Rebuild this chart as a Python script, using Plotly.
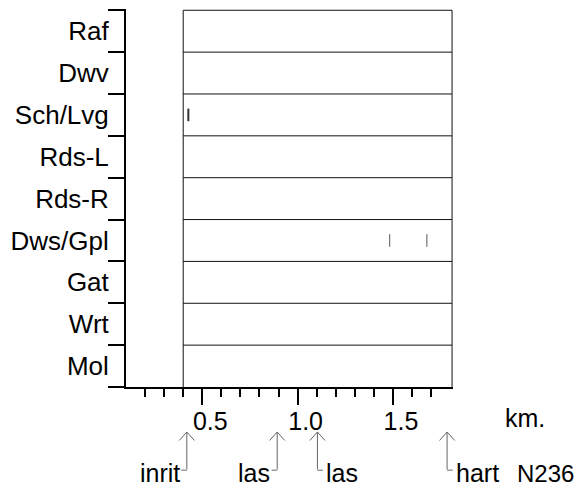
import plotly.graph_objects as go

# rows of the strip chart, top to bottom
rows = ["Raf", "Dwv", "Sch/Lvg", "Rds-L", "Rds-R", "Dws/Gpl", "Gat", "Wrt", "Mol"]

# small tick marks seen in the chart (row, km)
mark_rows = ["Sch/Lvg", "Dws/Gpl", "Dws/Gpl"]
mark_km = [0.427, 1.483, 1.678]
mark_color = ["#333333", "#555555", "#555555"]
mark_width = [2, 1, 1]

# x axis ticks
major_ticks = [0.5, 1.0, 1.5]
major_labels = ["0.5", "1.0", "1.5"]
minor_ticks = [0.2, 0.3, 0.4, 0.6, 0.7, 0.8, 0.9, 1.1, 1.2, 1.3, 1.4, 1.6, 1.7]

# grid box extent and axis range (km)
box_start = 0.4
box_end = 1.81
x_range = [0.1, 1.815]

# location markers under the axis
arrow_km = [0.419, 0.893, 1.104, 1.784]
arrow_text = ["inrit", "las", "las", "hart"]
arrow_side = ["left", "left", "right", "right"]

FONT = "Liberation Sans, Arial, sans-serif"
GREY = "#666666"

n = len(rows)
row_y = {r: n - i - 0.5 for i, r in enumerate(rows)}


def add_bent_arrow(fig, km, label, side):
    """Up arrow below the axis, bending sideways into its label."""
    tip_y = -0.119
    bend_y = -0.220
    common = dict(x=km, xref="x", yref="paper", text="", showarrow=True,
                  arrowhead=0, arrowwidth=1, arrowcolor=GREY, standoff=0,
                  axref="pixel", ayref="pixel", font=dict(size=1), borderpad=0)
    # head arms
    fig.add_annotation(y=tip_y, ax=-8, ay=9, **common)
    fig.add_annotation(y=tip_y, ax=8, ay=9, **common)
    # shaft
    fig.add_annotation(y=tip_y, ax=0, ay=38, **common)
    # sideways stub
    stub = -6 if side == "left" else 6
    fig.add_annotation(y=bend_y, ax=stub, ay=0, **common)
    # label
    fig.add_annotation(x=km, xref="x", y=bend_y, yref="paper", text=label,
                       showarrow=False, xanchor="right" if side == "left" else "left",
                       yanchor="middle", xshift=-5 if side == "left" else 7, yshift=-3,
                       font=dict(size=25, color="black", family=FONT))


fig = go.Figure()

fig.add_trace(go.Scatter(
    x=mark_km, y=[row_y[r] for r in mark_rows], mode="markers",
    marker=dict(symbol="line-ns", size=9,
                line=dict(width=mark_width, color=mark_color)),
    showlegend=False, hoverinfo="skip"))

# the box and its row lines
line_style = dict(color="#111111", width=1)
fig.add_shape(type="line", xref="x", yref="y", x0=box_start, x1=box_start,
              y0=0, y1=n, line=line_style)
fig.add_shape(type="line", xref="x", yref="y", x0=box_end, x1=box_end,
              y0=0, y1=n, line=line_style)
for k in range(1, n + 1):
    fig.add_shape(type="line", xref="x", yref="y", x0=box_start, x1=box_end,
                  y0=k, y1=k, line=line_style)

for km, label, side in zip(arrow_km, arrow_text, arrow_side):
    add_bent_arrow(fig, km, label, side)

fig.add_annotation(text="km.", xref="paper", yref="paper", x=1.22, y=-0.082,
                   showarrow=False, xanchor="center", yanchor="middle",
                   font=dict(size=25, color="black", family=FONT))
fig.add_annotation(text="N236", xref="paper", yref="paper", x=1.190, y=-0.220,
                   showarrow=False, xanchor="left", yanchor="middle", yshift=-3,
                   font=dict(size=24, color="black", family=FONT))

fig.update_layout(
    width=574, height=480,
    margin=dict(l=118, r=129, t=1, b=101),
    plot_bgcolor="white", paper_bgcolor="white",
    font=dict(family=FONT, size=25, color="black"),
    xaxis=dict(range=x_range, showline=True, linewidth=2, linecolor="black",
               showgrid=False, zeroline=False,
               tickmode="array", tickvals=major_ticks, ticktext=major_labels,
               ticks="outside", ticklen=16, tickwidth=2, tickcolor="black",
               ticklabelshift=8, ticklabelstandoff=-5,
               minor=dict(tickmode="array", tickvals=minor_ticks, ticks="outside",
                          ticklen=8, tickwidth=2, tickcolor="black")),
    yaxis=dict(range=[0, n + 0.03], showline=True, linewidth=2, linecolor="black",
               showgrid=False, zeroline=False,
               tickmode="array", tickvals=[row_y[r] for r in rows], ticktext=rows,
               ticks="", ticklabelstandoff=10, tickfont=dict(size=26),
               minor=dict(tickmode="array", tickvals=list(range(n + 1)),
                          ticks="outside", ticklen=16, tickwidth=2,
                          tickcolor="black")),
)

fig.write_html("out.html")
